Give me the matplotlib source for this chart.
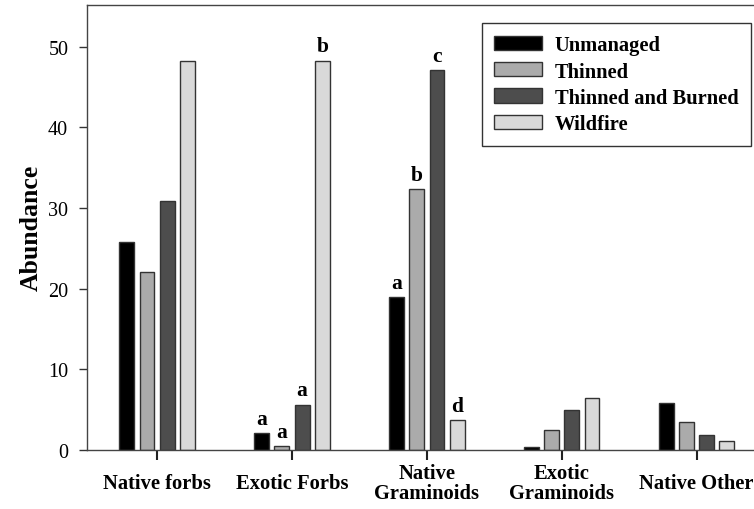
import matplotlib
matplotlib.use("Agg")
import matplotlib.pyplot as plt
import numpy as np

categories = ["Native forbs", "Exotic Forbs", "Native\nGraminoids", "Exotic\nGraminoids", "Native Other"]
series_names = ["Unmanaged", "Thinned", "Thinned and Burned", "Wildfire"]
unmanaged = [25.8, 2.1, 18.9, 0.3, 5.8]
thinned = [22.0, 0.4, 32.3, 2.5, 3.5]
thinned_burned = [30.9, 5.6, 47.1, 4.9, 1.8]
wildfire = [48.2, 48.3, 3.7, 6.4, 1.1]
letters = {
    "Unmanaged": ["", "a", "a", "", ""],
    "Thinned": ["", "a", "b", "", ""],
    "Thinned and Burned": ["", "a", "c", "", ""],
    "Wildfire": ["", "b", "d", "", ""],
}
yticks = [0, 10, 20, 30, 40, 50]

colors = ["#000000", "#ababab", "#4d4d4d", "#d9d9d9"]
series = [unmanaged, thinned, thinned_burned, wildfire]

plt.rcParams["font.family"] = ["Liberation Serif", "DejaVu Serif"]

fig = plt.figure(figsize=(7.54, 5.10), dpi=100)
ax = fig.add_axes([87 / 754, 1 - 450.7 / 510, 1 - 87 / 754, (450.7 - 6) / 510])

x = np.arange(len(categories))
pitch = 0.15
width = 0.11
for i, (name, vals, col) in enumerate(zip(series_names, series, colors)):
    pos = x + (i - 1.5) * pitch
    ax.bar(pos, vals, width, color=col, edgecolor="#333333", linewidth=1.0, label=name)
    for p, v, l in zip(pos, vals, letters[name]):
        if l:
            ax.annotate(l, (p, v), xytext=(0, 3), textcoords="offset points",
                        ha="center", va="bottom", fontsize=15.5, fontweight="bold")

ax.set_xlim(-0.52, 4.426)
ax.set_ylim(0, 55.2)
ax.set_yticks(yticks)
ax.set_xticks(x)
ax.set_xticklabels(categories, fontsize=14.8, fontweight="bold", linespacing=1.0)
for lbl in ax.get_xticklabels():
    lbl.set_va("center")
ax.tick_params(axis="x", direction="out", length=7, width=1.5, pad=17, color="#222222")
ax.tick_params(axis="y", direction="out", length=6, width=1, labelsize=14.5, pad=7.5, color="#333333")
ax.spines["right"].set_visible(False)
for s in ["left", "top", "bottom"]:
    ax.spines[s].set_color("#444444")
    ax.spines[s].set_linewidth(1.0)
ax.set_ylabel("Abundance", fontsize=18.5, fontweight="bold", labelpad=4)

leg = ax.legend(loc="upper right", bbox_to_anchor=(751 / 754, 1 - 24 / 510),
                bbox_transform=fig.transFigure, borderaxespad=0, fancybox=False,
                edgecolor="#333333", framealpha=1, prop={"size": 14.8, "weight": "bold"},
                handlelength=2.3, handleheight=0.68, handletextpad=0.65,
                labelspacing=0.3, borderpad=0.6)
leg.get_frame().set_linewidth(1.0)

fig.savefig("out.png", dpi=100)
